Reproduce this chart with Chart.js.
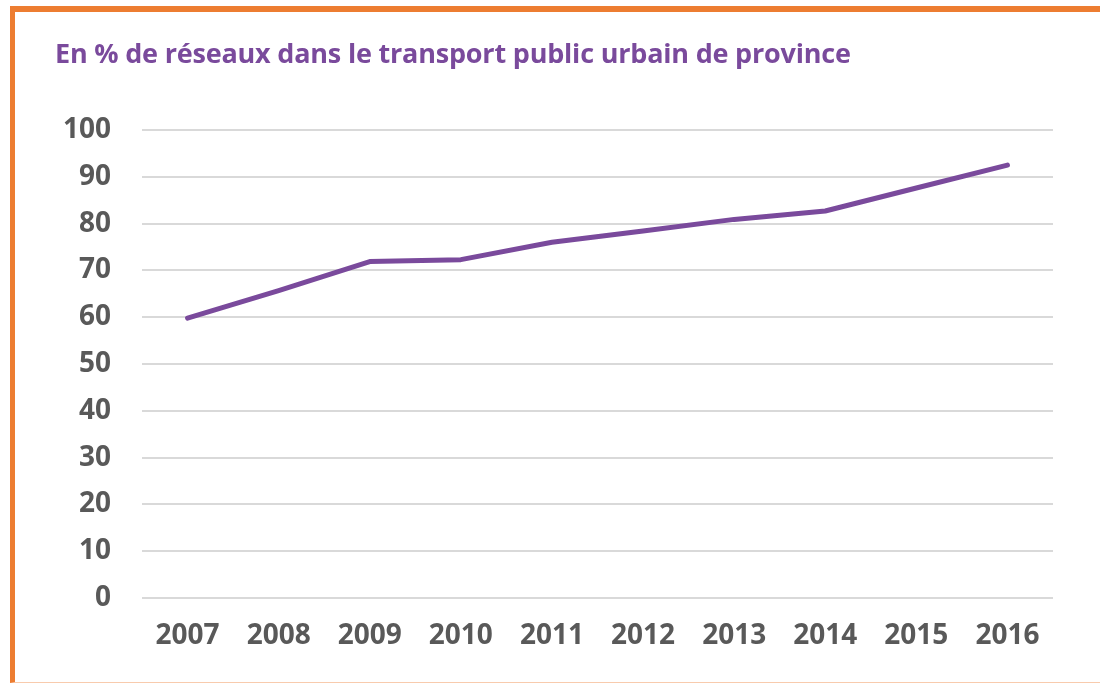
<!DOCTYPE html>
<html>
<head>
<meta charset="utf-8">
<script src="https://cdn.jsdelivr.net/npm/chart.js@4/dist/chart.umd.min.js"></script>
<style>
  html, body { margin: 0; padding: 0; background: #ffffff; }
  #wrap { position: relative; width: 1100px; height: 684px; overflow: hidden; background: #fff; }
  #frame { position: absolute; left: 10px; top: 6px; width: 1090px; height: 677px;
           border-left: 5px solid #ED7D31; border-top: 6px solid #ED7D31; border-bottom: 1px solid #F8CBAD;
           box-sizing: border-box; }
  #title { position: absolute; left: 55px; top: 34px; font-family: "Open Sans", sans-serif; font-weight: 700;
           font-size: 27px; line-height: 37px; color: #7A4A9C; white-space: nowrap; letter-spacing: -0.2px; }
  #c { position: absolute; left: 0; top: 0; }
</style>
</head>
<body>
<div id="wrap">
  <div id="frame"></div>
  <canvas id="c" width="1100" height="684"></canvas>
  <div id="title">En % de réseaux dans le transport public urbain de province</div>
</div>
<script>
const years = ["2007","2008","2009","2010","2011","2012","2013","2014","2015","2016"];
const shares = [59.8, 65.7, 71.9, 72.3, 76.0, 78.4, 80.9, 82.7, 87.6, 92.5];
const yTicks = [0, 10, 20, 30, 40, 50, 60, 70, 80, 90, 100];

const tickFont = { family: "'Open Sans', sans-serif", weight: '700', size: 28 };

new Chart(document.getElementById('c'), {
  type: 'line',
  data: {
    labels: years,
    datasets: [{
      data: shares,
      borderColor: '#7A4A9C',
      borderWidth: 5,
      pointRadius: 0,
      tension: 0,
      fill: false,
      borderCapStyle: 'round',
      borderJoinStyle: 'round'
    }]
  },
  options: {
    responsive: false,
    animation: false,
    layout: { padding: { left: 55, top: 130, right: 47, bottom: 20 } },
    plugins: { legend: { display: false }, tooltip: { enabled: false }, title: { display: false } },
    scales: {
      x: {
        offset: true,
        grid: { display: false, drawTicks: false },
        border: { display: false },
        ticks: { color: '#595959', font: tickFont, padding: 21, maxRotation: 0 },
        afterFit: (s) => { s.height = 66; }
      },
      y: {
        min: 0, max: 100,
        afterBuildTicks: (s) => { s.ticks = yTicks.map(v => ({ value: v })); },
        grid: { color: '#D9D9D9', lineWidth: 2, drawTicks: false },
        border: { display: false },
        ticks: { color: '#595959', font: tickFont, padding: 31 },
        afterFit: (s) => { s.width = 87; }
      }
    }
  }
});
</script>
</body>
</html>
